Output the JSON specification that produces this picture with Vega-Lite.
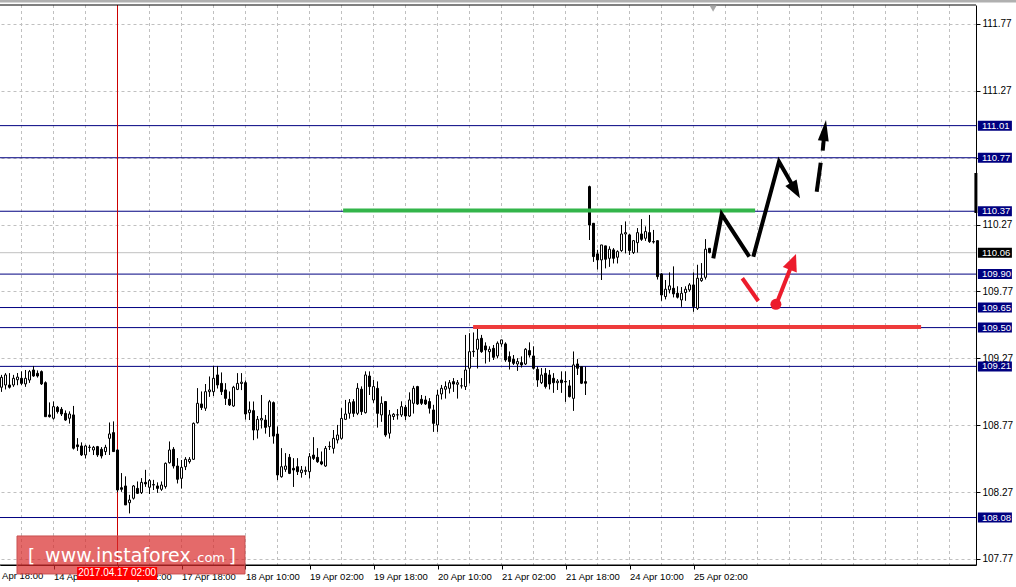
{
"$schema":"https://vega.github.io/schema/vega-lite/v6.json",
"width":976,"height":560,
"autosize":{"type":"none"},
"padding":{"left":0,"top":5,"right":40,"bottom":22},
"background":"white",
"config":{"view":{"stroke":null},"scale":{"continuousPadding":0},"axis":{"labelFont":"Liberation Sans","labelFontSize":10,"labelColor":"black","domainColor":"black","tickColor":"black","gridColor":"#c0c0c0","gridDash":[3,3]}},
"datasets":{
"vgrid":[{"t":5},{"t":13},{"t":21},{"t":29},{"t":37},{"t":45},{"t":53},{"t":61},{"t":69},{"t":77},{"t":85},{"t":93},{"t":101},{"t":109},{"t":117},{"t":125},{"t":133},{"t":141},{"t":149},{"t":157},{"t":165},{"t":173},{"t":181},{"t":189},{"t":197},{"t":205},{"t":213},{"t":221},{"t":229},{"t":237}],
"c":[
{"t":0,"o":109.054,"h":109.146,"l":109.021,"c":109.128},
{"t":1,"o":109.071,"h":109.158,"l":109.039,"c":109.146},
{"t":2,"o":109.071,"h":109.158,"l":109.046,"c":109.054},
{"t":3,"o":109.071,"h":109.146,"l":109.059,"c":109.121},
{"t":4,"o":109.11,"h":109.16,"l":109.07,"c":109.13},
{"t":5,"o":109.121,"h":109.171,"l":109.071,"c":109.083},
{"t":6,"o":109.079,"h":109.183,"l":109.059,"c":109.121},
{"t":7,"o":109.108,"h":109.183,"l":109.088,"c":109.171},
{"t":8,"o":109.183,"h":109.213,"l":109.133,"c":109.138},
{"t":9,"o":109.158,"h":109.178,"l":109.128,"c":109.138},
{"t":10,"o":109.171,"h":109.178,"l":109.071,"c":109.079},
{"t":11,"o":109.088,"h":109.096,"l":108.834,"c":108.834},
{"t":12,"o":108.847,"h":108.939,"l":108.829,"c":108.834},
{"t":13,"o":108.822,"h":108.946,"l":108.814,"c":108.909},
{"t":14,"o":108.904,"h":108.914,"l":108.859,"c":108.872},
{"t":15,"o":108.889,"h":108.904,"l":108.839,"c":108.854},
{"t":16,"o":108.859,"h":108.879,"l":108.804,"c":108.809},
{"t":17,"o":108.822,"h":108.872,"l":108.784,"c":108.854},
{"t":18,"o":108.847,"h":108.914,"l":108.59,"c":108.598},
{"t":19,"o":108.623,"h":108.672,"l":108.58,"c":108.61},
{"t":20,"o":108.615,"h":108.64,"l":108.54,"c":108.548},
{"t":21,"o":108.548,"h":108.623,"l":108.523,"c":108.615},
{"t":22,"o":108.604,"h":108.623,"l":108.573,"c":108.606},
{"t":23,"o":108.585,"h":108.615,"l":108.548,"c":108.605},
{"t":24,"o":108.61,"h":108.615,"l":108.535,"c":108.548},
{"t":25,"o":108.59,"h":108.605,"l":108.523,"c":108.54},
{"t":26,"o":108.573,"h":108.623,"l":108.548,"c":108.605},
{"t":27,"o":108.672,"h":108.789,"l":108.548,"c":108.705},
{"t":28,"o":108.715,"h":108.797,"l":108.573,"c":108.573},
{"t":29,"o":108.585,"h":108.59,"l":108.27,"c":108.286},
{"t":30,"o":108.303,"h":108.411,"l":108.274,"c":108.291},
{"t":31,"o":108.316,"h":108.386,"l":108.174,"c":108.174},
{"t":32,"o":108.191,"h":108.249,"l":108.112,"c":108.211},
{"t":33,"o":108.224,"h":108.323,"l":108.216,"c":108.316},
{"t":34,"o":108.298,"h":108.348,"l":108.256,"c":108.261},
{"t":35,"o":108.266,"h":108.373,"l":108.256,"c":108.343},
{"t":36,"o":108.343,"h":108.436,"l":108.311,"c":108.331},
{"t":37,"o":108.306,"h":108.366,"l":108.256,"c":108.356},
{"t":38,"o":108.326,"h":108.361,"l":108.286,"c":108.323},
{"t":39,"o":108.316,"h":108.341,"l":108.266,"c":108.298},
{"t":40,"o":108.291,"h":108.348,"l":108.281,"c":108.323},
{"t":41,"o":108.311,"h":108.49,"l":108.298,"c":108.485},
{"t":42,"o":108.49,"h":108.647,"l":108.485,"c":108.585},
{"t":43,"o":108.59,"h":108.605,"l":108.448,"c":108.465},
{"t":44,"o":108.465,"h":108.523,"l":108.336,"c":108.366},
{"t":45,"o":108.373,"h":108.51,"l":108.298,"c":108.455},
{"t":46,"o":108.46,"h":108.53,"l":108.435,"c":108.515},
{"t":47,"o":108.498,"h":108.53,"l":108.485,"c":108.515},
{"t":48,"o":108.515,"h":108.789,"l":108.51,"c":108.784},
{"t":49,"o":108.789,"h":109.046,"l":108.784,"c":108.934},
{"t":50,"o":108.929,"h":109.021,"l":108.884,"c":108.902},
{"t":51,"o":108.897,"h":109.078,"l":108.879,"c":109.021},
{"t":52,"o":109.021,"h":109.133,"l":108.984,"c":109.034},
{"t":53,"o":109.021,"h":109.213,"l":108.989,"c":109.121},
{"t":54,"o":109.146,"h":109.213,"l":109.046,"c":109.071},
{"t":55,"o":109.083,"h":109.163,"l":108.996,"c":109.021},
{"t":56,"o":109.034,"h":109.083,"l":108.922,"c":108.971},
{"t":57,"o":108.964,"h":109.021,"l":108.914,"c":108.922},
{"t":58,"o":108.914,"h":109.064,"l":108.909,"c":109.054},
{"t":59,"o":109.038,"h":109.158,"l":109.033,"c":109.083},
{"t":60,"o":109.082,"h":109.158,"l":109.033,"c":109.092},
{"t":61,"o":109.088,"h":109.103,"l":108.814,"c":108.854},
{"t":62,"o":108.864,"h":108.946,"l":108.809,"c":108.884},
{"t":63,"o":108.879,"h":108.946,"l":108.659,"c":108.734},
{"t":64,"o":108.734,"h":108.839,"l":108.672,"c":108.814},
{"t":65,"o":108.809,"h":108.996,"l":108.747,"c":108.821},
{"t":66,"o":108.809,"h":108.846,"l":108.709,"c":108.754},
{"t":67,"o":108.759,"h":108.959,"l":108.684,"c":108.946},
{"t":68,"o":108.939,"h":108.946,"l":108.634,"c":108.689},
{"t":69,"o":108.704,"h":108.759,"l":108.36,"c":108.398},
{"t":70,"o":108.385,"h":108.597,"l":108.38,"c":108.46},
{"t":71,"o":108.44,"h":108.56,"l":108.423,"c":108.465},
{"t":72,"o":108.53,"h":108.555,"l":108.405,"c":108.41},
{"t":73,"o":108.448,"h":108.522,"l":108.31,"c":108.435},
{"t":74,"o":108.46,"h":108.522,"l":108.398,"c":108.423},
{"t":75,"o":108.415,"h":108.465,"l":108.38,"c":108.435},
{"t":76,"o":108.425,"h":108.46,"l":108.398,"c":108.433},
{"t":77,"o":108.423,"h":108.56,"l":108.373,"c":108.535},
{"t":78,"o":108.547,"h":108.679,"l":108.51,"c":108.522},
{"t":79,"o":108.53,"h":108.597,"l":108.49,"c":108.497},
{"t":80,"o":108.497,"h":108.572,"l":108.472,"c":108.48},
{"t":81,"o":108.465,"h":108.614,"l":108.46,"c":108.597},
{"t":82,"o":108.61,"h":108.647,"l":108.585,"c":108.612},
{"t":83,"o":108.597,"h":108.734,"l":108.56,"c":108.672},
{"t":84,"o":108.66,"h":108.772,"l":108.635,"c":108.697},
{"t":85,"o":108.672,"h":108.896,"l":108.664,"c":108.821},
{"t":86,"o":108.814,"h":108.959,"l":108.809,"c":108.854},
{"t":87,"o":108.859,"h":108.964,"l":108.821,"c":108.939},
{"t":88,"o":108.946,"h":108.964,"l":108.834,"c":108.859},
{"t":89,"o":108.859,"h":109.083,"l":108.846,"c":109.046},
{"t":90,"o":109.039,"h":109.059,"l":108.847,"c":108.872},
{"t":91,"o":108.864,"h":109.171,"l":108.859,"c":109.146},
{"t":92,"o":109.138,"h":109.171,"l":108.996,"c":109.059},
{"t":93,"o":108.959,"h":109.108,"l":108.939,"c":109.059},
{"t":94,"o":109.046,"h":109.096,"l":108.754,"c":108.859},
{"t":95,"o":108.847,"h":108.984,"l":108.797,"c":108.934},
{"t":96,"o":108.947,"h":108.947,"l":108.685,"c":108.697},
{"t":97,"o":108.71,"h":108.884,"l":108.672,"c":108.847},
{"t":98,"o":108.835,"h":108.859,"l":108.81,"c":108.852},
{"t":99,"o":108.848,"h":108.889,"l":108.814,"c":108.847},
{"t":100,"o":108.847,"h":108.947,"l":108.834,"c":108.909},
{"t":101,"o":108.904,"h":108.922,"l":108.81,"c":108.839},
{"t":102,"o":108.839,"h":109.014,"l":108.834,"c":108.959},
{"t":103,"o":108.934,"h":109.064,"l":108.859,"c":109.046},
{"t":104,"o":109.059,"h":109.064,"l":108.922,"c":108.929},
{"t":105,"o":108.964,"h":108.996,"l":108.922,"c":108.934},
{"t":106,"o":108.959,"h":108.989,"l":108.922,"c":108.929},
{"t":107,"o":108.947,"h":108.971,"l":108.859,"c":108.897},
{"t":108,"o":108.884,"h":108.922,"l":108.722,"c":108.784},
{"t":109,"o":108.772,"h":109.034,"l":108.722,"c":108.996},
{"t":110,"o":109.004,"h":109.071,"l":108.964,"c":109.046},
{"t":111,"o":109.039,"h":109.096,"l":108.971,"c":109.059},
{"t":112,"o":109.046,"h":109.108,"l":109.009,"c":109.088},
{"t":113,"o":109.096,"h":109.121,"l":109.021,"c":109.078},
{"t":114,"o":109.076,"h":109.108,"l":108.971,"c":109.088},
{"t":115,"o":109.064,"h":109.121,"l":109.046,"c":109.065},
{"t":116,"o":109.059,"h":109.445,"l":109.034,"c":109.183},
{"t":117,"o":109.196,"h":109.457,"l":109.084,"c":109.32},
{"t":118,"o":109.32,"h":109.462,"l":109.283,"c":109.323},
{"t":119,"o":109.338,"h":109.495,"l":109.196,"c":109.413},
{"t":120,"o":109.42,"h":109.445,"l":109.313,"c":109.32},
{"t":121,"o":109.363,"h":109.388,"l":109.233,"c":109.333},
{"t":122,"o":109.32,"h":109.358,"l":109.246,"c":109.338},
{"t":123,"o":109.345,"h":109.37,"l":109.258,"c":109.278},
{"t":124,"o":109.288,"h":109.395,"l":109.271,"c":109.383},
{"t":125,"o":109.378,"h":109.408,"l":109.358,"c":109.408},
{"t":126,"o":109.378,"h":109.388,"l":109.246,"c":109.258},
{"t":127,"o":109.283,"h":109.32,"l":109.188,"c":109.246},
{"t":128,"o":109.263,"h":109.295,"l":109.221,"c":109.233},
{"t":129,"o":109.228,"h":109.27,"l":109.178,"c":109.246},
{"t":130,"o":109.238,"h":109.283,"l":109.203,"c":109.221},
{"t":131,"o":109.228,"h":109.345,"l":109.221,"c":109.338},
{"t":132,"o":109.328,"h":109.388,"l":109.278,"c":109.295},
{"t":133,"o":109.288,"h":109.358,"l":109.188,"c":109.196},
{"t":134,"o":109.188,"h":109.208,"l":109.059,"c":109.108},
{"t":135,"o":109.088,"h":109.196,"l":109.078,"c":109.146},
{"t":136,"o":109.158,"h":109.196,"l":109.046,"c":109.059},
{"t":137,"o":109.146,"h":109.183,"l":109.039,"c":109.078},
{"t":138,"o":109.121,"h":109.158,"l":109.014,"c":109.088},
{"t":139,"o":109.088,"h":109.113,"l":109.034,"c":109.1},
{"t":140,"o":109.108,"h":109.171,"l":109.014,"c":109.088},
{"t":141,"o":109.097,"h":109.171,"l":108.946,"c":109.094},
{"t":142,"o":109.064,"h":109.108,"l":108.979,"c":108.984},
{"t":143,"o":108.971,"h":109.32,"l":108.879,"c":109.221},
{"t":144,"o":109.228,"h":109.263,"l":109.146,"c":109.196},
{"t":145,"o":109.208,"h":109.208,"l":109.078,"c":109.084},
{"t":146,"o":109.096,"h":109.208,"l":108.996,"c":109.084},
{"t":147,"o":110.554,"h":110.56,"l":110.155,"c":110.267},
{"t":148,"o":110.28,"h":110.28,"l":109.993,"c":110.031},
{"t":149,"o":110.051,"h":110.081,"l":109.936,"c":110.006},
{"t":150,"o":110.006,"h":110.118,"l":109.856,"c":110.118},
{"t":151,"o":110.111,"h":110.111,"l":109.944,"c":110.011},
{"t":152,"o":110.018,"h":110.106,"l":109.956,"c":110.086},
{"t":153,"o":110.081,"h":110.093,"l":109.981,"c":110.018},
{"t":154,"o":110.026,"h":110.076,"l":109.981,"c":110.068},
{"t":155,"o":110.076,"h":110.267,"l":110.068,"c":110.2},
{"t":156,"o":110.2,"h":110.292,"l":110.056,"c":110.21},
{"t":157,"o":110.193,"h":110.2,"l":110.043,"c":110.076},
{"t":158,"o":110.061,"h":110.155,"l":110.051,"c":110.15},
{"t":159,"o":110.135,"h":110.243,"l":110.061,"c":110.21},
{"t":160,"o":110.2,"h":110.31,"l":110.15,"c":110.16},
{"t":161,"o":110.168,"h":110.255,"l":110.15,"c":110.218},
{"t":162,"o":110.21,"h":110.342,"l":110.135,"c":110.143},
{"t":163,"o":110.143,"h":110.23,"l":110.13,"c":110.14},
{"t":164,"o":110.15,"h":110.15,"l":109.861,"c":109.881},
{"t":165,"o":109.901,"h":109.906,"l":109.702,"c":109.744},
{"t":166,"o":109.732,"h":109.856,"l":109.712,"c":109.787},
{"t":167,"o":109.782,"h":109.911,"l":109.757,"c":109.812},
{"t":168,"o":109.794,"h":109.956,"l":109.727,"c":109.752},
{"t":169,"o":109.757,"h":109.807,"l":109.719,"c":109.727},
{"t":170,"o":109.707,"h":109.802,"l":109.657,"c":109.757},
{"t":171,"o":109.762,"h":109.807,"l":109.702,"c":109.787},
{"t":172,"o":109.782,"h":109.831,"l":109.769,"c":109.819},
{"t":173,"o":109.819,"h":109.911,"l":109.62,"c":109.657},
{"t":174,"o":109.644,"h":109.969,"l":109.632,"c":109.869},
{"t":175,"o":109.851,"h":109.981,"l":109.844,"c":109.869},
{"t":176,"o":109.876,"h":110.16,"l":109.861,"c":110.086},
{"t":177,"o":110.093,"h":110.093,"l":110.056,"c":110.061}
],
"levels":[{"p":111.01,"lab":"111.01"},{"p":110.77,"lab":"110.77"},{"p":110.37,"lab":"110.37"},{"p":109.9,"lab":"109.90"},{"p":109.65,"lab":"109.65"},{"p":109.5,"lab":"109.50"},{"p":109.21,"lab":"109.21"},{"p":108.08,"lab":"108.08"}],
"bid":[{"p":110.06,"lab":"110.06"}],
"green":[{"t":85.4,"t2":188.4,"p":110.375}],
"redline":[{"t":117.9,"t2":229.9,"p":109.505}],
"blk":[
{"g":"b1","k":0,"t":177.95,"p":110.018},{"g":"b1","k":1,"t":180.05,"p":110.347},{"g":"b1","k":2,"t":186.95,"p":110.03},
{"g":"b2","k":0,"t":187.95,"p":110.03},{"g":"b2","k":1,"t":194.375,"p":110.74},{"g":"b2","k":2,"t":198.5,"p":110.525},
{"g":"b3","k":0,"t":203.8,"p":110.516},{"g":"b3","k":1,"t":204.8,"p":110.733},
{"g":"b4","k":0,"t":205.3,"p":110.823},{"g":"b4","k":1,"t":205.78,"p":110.974}
],
"red":[
{"g":"r1","k":0,"t":185.2,"p":109.869},{"g":"r1","k":1,"t":189.2,"p":109.699},
{"g":"r2","k":0,"t":193.95,"p":109.693},{"g":"r2","k":1,"t":197.85,"p":109.991}
]
},
"layer":[
{"data":{"name":"vgrid"},"mark":{"type":"rule","color":"#c0c0c0","strokeWidth":1,"strokeDash":[3,3]},
 "encoding":{"x":{"field":"t","type":"quantitative","title":null,"scale":{"domain":[-0.375,243.625],"nice":false,"zero":false,"padding":0},
  "axis":{"orient":"bottom","title":null,"values":[13,29,45,61,77,93,109,125,141,157,173],
   "labelExpr":"datum.value == 13 ? '14 Apr 10:00' : datum.value == 29 ? '17 Apr 02:00' : datum.value == 45 ? '17 Apr 18:00' : datum.value == 61 ? '18 Apr 10:00' : datum.value == 77 ? '19 Apr 02:00' : datum.value == 93 ? '19 Apr 18:00' : datum.value == 109 ? '20 Apr 10:00' : datum.value == 125 ? '21 Apr 02:00' : datum.value == 141 ? '21 Apr 18:00' : datum.value == 157 ? '24 Apr 10:00' : '25 Apr 02:00'",
   "grid":false,"labelAlign":"left","labelPadding":2,"tickSize":4,"labelFlush":false,"labelOverlap":false,"labelBound":false,"labelFontSize":9.5,"labelBaseline":"top","zindex":0}}}},
{"data":{"name":"c"},"mark":{"type":"rule","color":"black","strokeWidth":1},
 "encoding":{"x":{"field":"t","type":"quantitative","title":null,"scale":{"domain":[-0.375,243.625],"nice":false,"zero":false,"padding":0}},
  "y":{"field":"l","type":"quantitative","title":null,"scale":{"domain":[107.725,111.912],"nice":false,"zero":false,"padding":0},
  "axis":{"orient":"right","title":null,"values":[107.77,108.02,108.27,108.52,108.77,109.02,109.27,109.52,109.77,110.02,110.27,110.52,110.77,111.02,111.27,111.52,111.77],"format":".2f","labelExpr":"indexof(['111.02','110.77','109.52'], datum.label) >= 0 ? '' : datum.label","grid":true,"gridDash":[3,3],"tickSize":4,"labelPadding":2,"labelOverlap":false,"labelBound":false,"labelFlush":false,"labelBaseline":"middle","zindex":0}},
  "y2":{"field":"h"}}},
{"data":{"name":"levels"},"mark":{"type":"rule","color":"#000080","strokeWidth":1},
 "encoding":{"y":{"field":"p","type":"quantitative","title":null,"scale":{"domain":[107.725,111.912],"nice":false,"zero":false,"padding":0}}}},
{"data":{"name":"bid"},"mark":{"type":"rule","color":"#c0c0c0","strokeWidth":1},
 "encoding":{"y":{"field":"p","type":"quantitative","title":null,"scale":{"domain":[107.725,111.912],"nice":false,"zero":false,"padding":0}}}},
{"data":{"values":[{"t":29}]},"mark":{"type":"rule","color":"#cc0000","strokeWidth":1},
 "encoding":{"x":{"field":"t","type":"quantitative","title":null,"scale":{"domain":[-0.375,243.625],"nice":false,"zero":false,"padding":0}}}},
{"data":{"name":"c"},"mark":{"type":"rule","color":"black","strokeWidth":1},
 "encoding":{"x":{"field":"t","type":"quantitative","title":null,"scale":{"domain":[-0.375,243.625],"nice":false,"zero":false,"padding":0}},
  "y":{"field":"l","type":"quantitative","title":null,"scale":{"domain":[107.725,111.912],"nice":false,"zero":false,"padding":0}},
  "y2":{"field":"h"}}},
{"data":{"name":"c"},"mark":{"type":"bar","size":2,"stroke":"black","strokeWidth":1},
 "encoding":{"x":{"field":"t","type":"quantitative","title":null,"scale":{"domain":[-0.375,243.625],"nice":false,"zero":false,"padding":0}},
  "y":{"field":"o","type":"quantitative","title":null,"scale":{"domain":[107.725,111.912],"nice":false,"zero":false,"padding":0}},
  "y2":{"field":"c"},
  "fill":{"condition":{"test":"datum.c >= datum.o","value":"white"},"value":"black"}}},
{"data":{"name":"green"},"mark":{"type":"rule","color":"#33b54a","strokeWidth":4},
 "encoding":{"x":{"field":"t","type":"quantitative","title":null,"scale":{"domain":[-0.375,243.625],"nice":false,"zero":false,"padding":0}},"x2":{"field":"t2"},
  "y":{"field":"p","type":"quantitative","title":null,"scale":{"domain":[107.725,111.912],"nice":false,"zero":false,"padding":0}}}},
{"data":{"name":"redline"},"mark":{"type":"rule","color":"#ee3b3b","strokeWidth":4},
 "encoding":{"x":{"field":"t","type":"quantitative","title":null,"scale":{"domain":[-0.375,243.625],"nice":false,"zero":false,"padding":0}},"x2":{"field":"t2"},
  "y":{"field":"p","type":"quantitative","title":null,"scale":{"domain":[107.725,111.912],"nice":false,"zero":false,"padding":0}}}},
{"data":{"name":"blk"},"mark":{"type":"line","color":"black","strokeWidth":4,"strokeCap":"butt"},
 "encoding":{"x":{"field":"t","type":"quantitative","title":null,"scale":{"domain":[-0.375,243.625],"nice":false,"zero":false,"padding":0}},
  "y":{"field":"p","type":"quantitative","title":null,"scale":{"domain":[107.725,111.912],"nice":false,"zero":false,"padding":0}},
  "detail":{"field":"g"},"order":{"field":"k"}}},
{"data":{"name":"red"},"mark":{"type":"line","color":"#ec1c2c","strokeWidth":4,"strokeCap":"butt"},
 "encoding":{"x":{"field":"t","type":"quantitative","title":null,"scale":{"domain":[-0.375,243.625],"nice":false,"zero":false,"padding":0}},
  "y":{"field":"p","type":"quantitative","title":null,"scale":{"domain":[107.725,111.912],"nice":false,"zero":false,"padding":0}},
  "detail":{"field":"g"},"order":{"field":"k"}}},
{"data":{"values":[{"t":198.5,"p":110.525}]},"mark":{"type":"point","shape":"M0,-1L0.72,1L-0.72,1Z","size":324,"angle":150,"filled":true,"color":"black","opacity":1},
 "encoding":{"x":{"field":"t","type":"quantitative","title":null,"scale":{"domain":[-0.375,243.625],"nice":false,"zero":false,"padding":0}},
  "y":{"field":"p","type":"quantitative","title":null,"scale":{"domain":[107.725,111.912],"nice":false,"zero":false,"padding":0}}}},
{"data":{"values":[{"t":205.78,"p":110.974}]},"mark":{"type":"point","shape":"M0,-1L0.52,1L-0.52,1Z","size":441,"angle":7.4,"filled":true,"color":"black","opacity":1},
 "encoding":{"x":{"field":"t","type":"quantitative","title":null,"scale":{"domain":[-0.375,243.625],"nice":false,"zero":false,"padding":0}},
  "y":{"field":"p","type":"quantitative","title":null,"scale":{"domain":[107.725,111.912],"nice":false,"zero":false,"padding":0}}}},
{"data":{"values":[{"t":197.85,"p":109.991}]},"mark":{"type":"point","shape":"M0,-1L0.88,1L-0.88,1Z","size":289,"angle":21.4,"filled":true,"color":"#ec1c2c","opacity":1},
 "encoding":{"x":{"field":"t","type":"quantitative","title":null,"scale":{"domain":[-0.375,243.625],"nice":false,"zero":false,"padding":0}},
  "y":{"field":"p","type":"quantitative","title":null,"scale":{"domain":[107.725,111.912],"nice":false,"zero":false,"padding":0}}}},
{"data":{"values":[{"t":193.6,"p":109.674}]},"mark":{"type":"point","shape":"circle","size":120,"filled":true,"color":"#ec1c2c","opacity":1},
 "encoding":{"x":{"field":"t","type":"quantitative","title":null,"scale":{"domain":[-0.375,243.625],"nice":false,"zero":false,"padding":0}},
  "y":{"field":"p","type":"quantitative","title":null,"scale":{"domain":[107.725,111.912],"nice":false,"zero":false,"padding":0}}}},
{"data":{"values":[{"t":243.6,"p":110.656,"p2":110.357}]},"mark":{"type":"rule","color":"black","strokeWidth":3},
 "encoding":{"x":{"field":"t","type":"quantitative","title":null,"scale":{"domain":[-0.375,243.625],"nice":false,"zero":false,"padding":0}},
  "y":{"field":"p","type":"quantitative","title":null,"scale":{"domain":[107.725,111.912],"nice":false,"zero":false,"padding":0}},"y2":{"field":"p2"}}},
{"data":{"values":[{"p":111.912}]},"mark":{"type":"rule","color":"black","strokeWidth":1},
 "encoding":{"y":{"field":"p","type":"quantitative","title":null,"scale":{"domain":[107.725,111.912],"nice":false,"zero":false,"padding":0}}}},
{"data":{"values":[{"p":107.725}]},"mark":{"type":"rule","color":"black","strokeWidth":1},
 "encoding":{"y":{"field":"p","type":"quantitative","title":null,"scale":{"domain":[107.725,111.912],"nice":false,"zero":false,"padding":0}}}},
{"data":{"values":[{"t":-0.5,"t2":253.7,"p":111.95,"p2":111.93}]},"mark":{"type":"rect","fill":"#b0b0b0"},
 "encoding":{"x":{"field":"t","type":"quantitative","title":null,"scale":{"domain":[-0.375,243.625],"nice":false,"zero":false,"padding":0}},"x2":{"field":"t2"},
  "y":{"field":"p","type":"quantitative","title":null,"scale":{"domain":[107.725,111.912],"nice":false,"zero":false,"padding":0}},"y2":{"field":"p2"}}},
{"data":{"values":[{"t":177.9,"p":111.885}]},"mark":{"type":"point","shape":"triangle-down","size":50,"filled":true,"color":"#a8a8a8","opacity":1},
 "encoding":{"x":{"field":"t","type":"quantitative","title":null,"scale":{"domain":[-0.375,243.625],"nice":false,"zero":false,"padding":0}},
  "y":{"field":"p","type":"quantitative","title":null,"scale":{"domain":[107.725,111.912],"nice":false,"zero":false,"padding":0}}}},
{"data":{"values":[{"s":"Apr 18:00","t":0.15,"p":107.68}]},"mark":{"type":"text","align":"left","baseline":"top","color":"black","font":"Liberation Sans","fontSize":9.5},
 "encoding":{"x":{"field":"t","type":"quantitative","title":null,"scale":{"domain":[-0.375,243.625],"nice":false,"zero":false,"padding":0}},
  "y":{"field":"p","type":"quantitative","title":null,"scale":{"domain":[107.725,111.912],"nice":false,"zero":false,"padding":0}},"text":{"field":"s"}}},
{"data":{"name":"levels"},"mark":{"type":"bar","orient":"horizontal","size":10,"color":"#000080"},
 "encoding":{"x":{"datum":244.1,"type":"quantitative","title":null,"scale":{"domain":[-0.375,243.625],"nice":false,"zero":false,"padding":0}},"x2":{"datum":252.6},
  "y":{"field":"p","type":"quantitative","title":null,"scale":{"domain":[107.725,111.912],"nice":false,"zero":false,"padding":0}}}},
{"data":{"name":"bid"},"mark":{"type":"bar","orient":"horizontal","size":10,"color":"black"},
 "encoding":{"x":{"datum":244.1,"type":"quantitative","title":null,"scale":{"domain":[-0.375,243.625],"nice":false,"zero":false,"padding":0}},"x2":{"datum":252.6},
  "y":{"field":"p","type":"quantitative","title":null,"scale":{"domain":[107.725,111.912],"nice":false,"zero":false,"padding":0}}}},
{"data":{"name":"levels"},"mark":{"type":"text","align":"left","baseline":"middle","color":"white","font":"Liberation Sans","fontSize":9.5},
 "encoding":{"x":{"datum":245.1,"type":"quantitative","title":null,"scale":{"domain":[-0.375,243.625],"nice":false,"zero":false,"padding":0}},
  "y":{"field":"p","type":"quantitative","title":null,"scale":{"domain":[107.725,111.912],"nice":false,"zero":false,"padding":0}},"text":{"field":"lab"}}},
{"data":{"name":"bid"},"mark":{"type":"text","align":"left","baseline":"middle","color":"white","font":"Liberation Sans","fontSize":9.5},
 "encoding":{"x":{"datum":245.1,"type":"quantitative","title":null,"scale":{"domain":[-0.375,243.625],"nice":false,"zero":false,"padding":0}},
  "y":{"field":"p","type":"quantitative","title":null,"scale":{"domain":[107.725,111.912],"nice":false,"zero":false,"padding":0}},"text":{"field":"lab"}}},
{"data":{"values":[{"t":3.875,"t2":60.875,"p":107.942,"p2":107.658}]},"mark":{"type":"rect","fill":"#d92b2b","fillOpacity":0.7,"stroke":"#c85050","strokeWidth":1},
 "encoding":{"x":{"field":"t","type":"quantitative","title":null,"scale":{"domain":[-0.375,243.625],"nice":false,"zero":false,"padding":0}},"x2":{"field":"t2"},
  "y":{"field":"p","type":"quantitative","title":null,"scale":{"domain":[107.725,111.912],"nice":false,"zero":false,"padding":0}},"y2":{"field":"p2"}}},
{"data":{"values":[{"s":"[","t":6.6,"p":107.745},{"s":"]","t":56.8,"p":107.745}]},"mark":{"type":"text","align":"left","baseline":"alphabetic","color":"white","font":"DejaVu Sans","fontSize":18},
 "encoding":{"x":{"field":"t","type":"quantitative","title":null,"scale":{"domain":[-0.375,243.625],"nice":false,"zero":false,"padding":0}},
  "y":{"field":"p","type":"quantitative","title":null,"scale":{"domain":[107.725,111.912],"nice":false,"zero":false,"padding":0}},"text":{"field":"s"}}},
{"data":{"values":[{"s":"www.instaforex","t":10.9,"p":107.748}]},"mark":{"type":"text","align":"left","baseline":"alphabetic","color":"white","font":"DejaVu Sans","fontSize":19},
 "encoding":{"x":{"field":"t","type":"quantitative","title":null,"scale":{"domain":[-0.375,243.625],"nice":false,"zero":false,"padding":0}},
  "y":{"field":"p","type":"quantitative","title":null,"scale":{"domain":[107.725,111.912],"nice":false,"zero":false,"padding":0}},"text":{"field":"s"}}},
{"data":{"values":[{"s":".com","t":47.9,"p":107.748}]},"mark":{"type":"text","align":"left","baseline":"alphabetic","color":"white","font":"DejaVu Sans","fontSize":13},
 "encoding":{"x":{"field":"t","type":"quantitative","title":null,"scale":{"domain":[-0.375,243.625],"nice":false,"zero":false,"padding":0}},
  "y":{"field":"p","type":"quantitative","title":null,"scale":{"domain":[107.725,111.912],"nice":false,"zero":false,"padding":0}},"text":{"field":"s"}}},
{"data":{"values":[{"t":18.9,"t2":38.9,"p":107.662}]},"mark":{"type":"bar","orient":"horizontal","size":13,"color":"#ff0000"},
 "encoding":{"x":{"field":"t","type":"quantitative","title":null,"scale":{"domain":[-0.375,243.625],"nice":false,"zero":false,"padding":0}},"x2":{"field":"t2"},
  "y":{"field":"p","type":"quantitative","title":null,"scale":{"domain":[107.725,111.912],"nice":false,"zero":false,"padding":0}}}},
{"data":{"values":[{"s":"2017.04.17 02:00","t":28.9,"p":107.662}]},"mark":{"type":"text","align":"center","baseline":"middle","color":"white","font":"Liberation Sans","fontSize":10},
 "encoding":{"x":{"field":"t","type":"quantitative","title":null,"scale":{"domain":[-0.375,243.625],"nice":false,"zero":false,"padding":0}},
  "y":{"field":"p","type":"quantitative","title":null,"scale":{"domain":[107.725,111.912],"nice":false,"zero":false,"padding":0}},"text":{"field":"s"}}}
]
}
